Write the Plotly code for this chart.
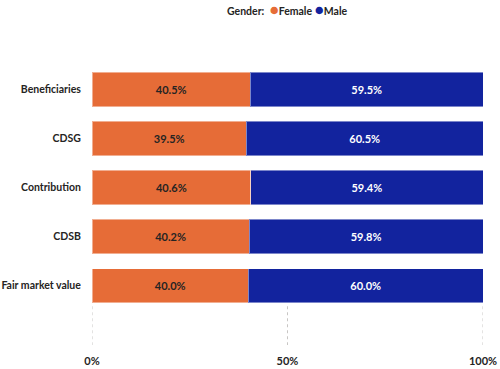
import plotly.graph_objects as go

categories = ["Beneficiaries", "CDSG", "Contribution", "CDSB", "Fair market value"]
female = [0.405, 0.395, 0.406, 0.402, 0.400]
male = [0.595, 0.605, 0.594, 0.598, 0.600]
tick_vals = [0, 0.5, 1.0]
tick_text = ["0%", "50%", "100%"]
legend_title = "Gender:"
series_names = ["Female", "Male"]

FONT = "Lato"
ORANGE = "#E66C37"
BLUE = "#12239E"
colors = [ORANGE, BLUE]

fig = go.Figure()
fig.add_trace(go.Bar(
    y=categories, x=female, name=series_names[0], orientation="h",
    marker=dict(color=ORANGE, line=dict(color="rgba(255,255,255,0.45)", width=1)),
    texttemplate="%{x:.1%}", textposition="inside", insidetextanchor="middle",
    textfont=dict(family=FONT, size=11, color="#252423", weight="bold"),
    width=0.7, showlegend=False,
))
fig.add_trace(go.Bar(
    y=categories, x=male, name=series_names[1], orientation="h",
    marker=dict(color=BLUE, line=dict(color="rgba(255,255,255,0.45)", width=1)),
    texttemplate="%{x:.1%}", textposition="inside", insidetextanchor="middle",
    textfont=dict(family=FONT, size=11, color="white", weight="bold"),
    width=0.7, showlegend=False,
))

for v in tick_vals:
    fig.add_shape(type="line", xref="x", yref="y", x0=v, x1=v, y0=4.42, y1=5.21,
                  line=dict(color="#C8C6C4", width=1, dash="dot"), layer="below")

legend_text = "<b>" + legend_title + "</b>  " + " ".join(
    f"<span style='color:{c};font-size:15px'>●</span><b>{n}</b>" for n, c in zip(series_names, colors)
)
fig.add_annotation(text=legend_text, xref="paper", yref="paper", x=0.5, y=1.0,
                   yanchor="middle", xanchor="center", showarrow=False,
                   font=dict(family=FONT, size=10.5, color="#252423"), yshift=56)

fig.update_layout(
    width=500, height=369,
    barmode="stack", bargap=0.3,
    margin=dict(l=92, r=17, t=65, b=24),
    plot_bgcolor="white", paper_bgcolor="white",
    font=dict(family=FONT, size=10, color="#252423"),
    showlegend=False,
    xaxis=dict(range=[0, 1], tickvals=tick_vals, ticktext=tick_text, showgrid=False,
               zeroline=False, showline=False, automargin=False,
               ticks="outside", ticklen=6, tickcolor="rgba(0,0,0,0)",
               tickfont=dict(family=FONT, size=11, weight="bold", color="#252423")),
    yaxis=dict(type="category", categoryorder="array", categoryarray=categories,
               range=[5.21, -0.5], showgrid=False, zeroline=False, automargin=False,
               ticks="outside", ticklen=8, tickcolor="rgba(0,0,0,0)",
               tickfont=dict(family=FONT, size=10.5, weight="bold", color="#252423")),
)
fig.write_html("out.html", config={"displayModeBar": False},
               post_script="document.body.style.margin='0';document.body.style.overflow='hidden';")
